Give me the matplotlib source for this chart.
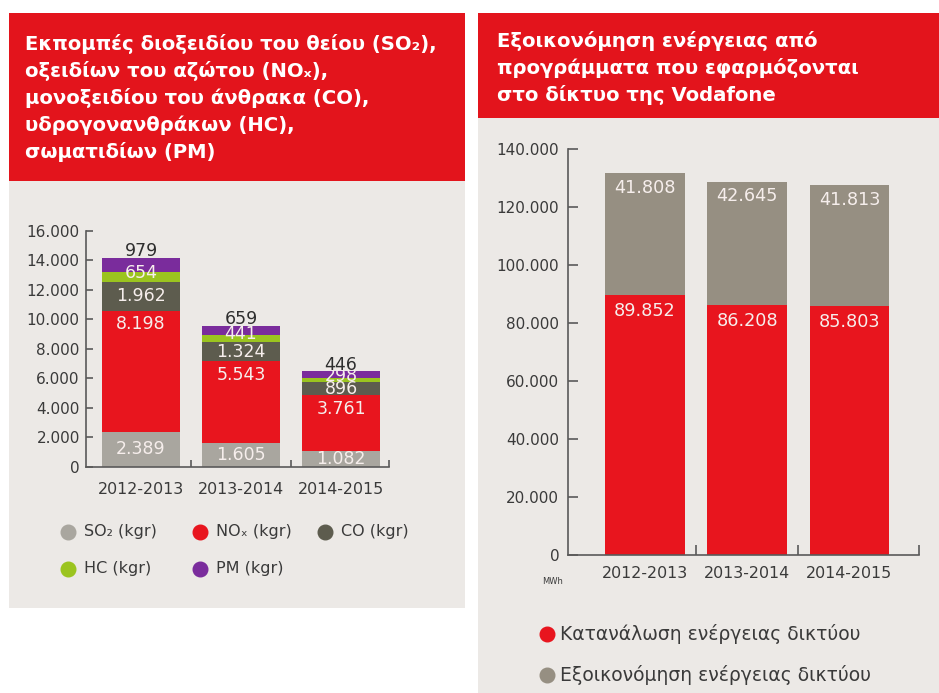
import numpy as np
import matplotlib.pyplot as plt
from matplotlib.patches import Rectangle
from matplotlib.lines import Line2D
from matplotlib.ticker import FuncFormatter, FixedLocator

W, H = 939, 693

# emissions per year, kgr
years = ["2012-2013", "2013-2014", "2014-2015"]
so2 = [2389, 1605, 1082]
nox = [8198, 5543, 3761]
co = [1962, 1324, 896]
hc = [654, 441, 298]
pm = [979, 659, 446]

# network energy, MWh
consumption = [89852, 86208, 85803]
savings = [41808, 42645, 41813]

left_title = ["Εκπομπές διοξειδίου του θείου (SO₂),",
              "οξειδίων του αζώτου (NOₓ),",
              "μονοξειδίου του άνθρακα (CO),",
              "υδρογονανθράκων (HC),",
              "σωματιδίων (PM)"]
right_title = ["Εξοικονόμηση ενέργειας από",
               "προγράμματα που εφαρμόζονται",
               "στο δίκτυο της Vodafone"]
left_legend = ["SO₂ (kgr)", "NOₓ (kgr)", "CO (kgr)", "HC (kgr)", "PM (kgr)"]
right_legend = ["Κατανάλωση ενέργειας δικτύου", "Εξοικονόμηση ενέργειας δικτύου"]

RED = '#E8151E'
HEADER_RED = '#E3141C'
PANEL = '#ECE9E6'
SO2_GREY = '#A9A69F'
CO_GREY = '#5D5C4E'
HC_GREEN = '#9BC41F'
PM_PURPLE = '#7A2C9C'
SAVE_GREY = '#968F82'
TEXT = '#3A3A3A'
LABEL = '#F6EEEC'
AXIS = '#5A5A5A'

plt.rcParams['font.family'] = ['DejaVu Sans']


def dots(v):
    return f"{v:,.0f}".replace(",", ".")


def fx(x):
    return x / W


def fy(y):
    return 1 - y / H


def px_axes(fig, x0, y0, x1, y1):
    return fig.add_axes([fx(x0), fy(y1), (x1 - x0) / W, (y1 - y0) / H])


def style_axes(ax, ymax, step, ticklen, xpad, ypad, xend):
    ax.set_facecolor('none')
    ax.set_ylim(0, ymax)
    ax.set_yticks(np.arange(0, ymax + 1, step))
    ax.yaxis.set_major_formatter(FuncFormatter(lambda v, p: dots(v)))
    for s in ["top", "right"]:
        ax.spines[s].set_visible(False)
    for s in ["left", "bottom"]:
        ax.spines[s].set_color(AXIS)
        ax.spines[s].set_linewidth(1.2)
    ax.tick_params(axis='y', direction='in', length=ticklen, width=1.2,
                   color=AXIS, labelcolor=TEXT, labelsize=11, pad=ypad)
    ax.set_xticks(range(len(years)))
    ax.set_xticklabels(years)
    ax.tick_params(axis='x', which='major', length=0, labelcolor=TEXT,
                   labelsize=11.4, pad=xpad)
    ax.xaxis.set_minor_locator(FixedLocator([0.5, 1.5, xend]))
    ax.tick_params(axis='x', which='minor', direction='in', length=ticklen,
                   width=1.2, color=AXIS)


fig = plt.figure(figsize=(W / 100, H / 100), dpi=100)
fig.patch.set_facecolor('white')

# panels and headers
for x0, y0, x1, y1, c in [(9, 181, 465, 608, PANEL), (478, 118, 939, 693, PANEL),
                          (9, 13, 465, 181.5, HEADER_RED), (478, 13, 939, 118, HEADER_RED)]:
    fig.add_artist(Rectangle((fx(x0), fy(y1)), (x1 - x0) / W, (y1 - y0) / H,
                             transform=fig.transFigure, facecolor=c, edgecolor='none',
                             zorder=0))

for i, line in enumerate(left_title):
    fig.text(fx(25), fy(50 + 27 * i), line, color='white', fontsize=14.1,
             fontweight='bold', va='baseline', ha='left')
for i, line in enumerate(right_title):
    fig.text(fx(497), fy(47 + 27 * i), line, color='white', fontsize=14.1,
             fontweight='bold', va='baseline', ha='left')

# left chart: stacked emissions
ax1 = px_axes(fig, 86, 231, 389, 466.7)
x = np.arange(len(years))
bw = 0.78
bottom = np.zeros(len(years))
series = [(so2, SO2_GREY), (nox, RED), (co, CO_GREY), (hc, HC_GREEN), (pm, PM_PURPLE)]
for k, (vals, col) in enumerate(series):
    vals = np.array(vals)
    ax1.bar(x, vals, bw, bottom=bottom, color=col, zorder=2)
    for i in range(len(years)):
        if k == 1:
            ax1.annotate(dots(vals[i]), (x[i], bottom[i] + vals[i]), xytext=(0, -3),
                         textcoords='offset points', ha='center', va='top',
                         color=LABEL, fontsize=12.5, zorder=3)
        elif k == 4:
            ax1.annotate(dots(vals[i]), (x[i], bottom[i] + vals[i]), xytext=(0, 1),
                         textcoords='offset points', ha='center', va='baseline',
                         color='#2E2E2E', fontsize=12.5, zorder=3)
        else:
            lift = 3 if k == 3 else 0
            ax1.annotate(dots(vals[i]), (x[i], bottom[i] + vals[i] / 2), xytext=(0, lift),
                         textcoords='offset points', ha='center', va='center',
                         color=LABEL, fontsize=12.5, zorder=3)
    bottom = bottom + vals
ax1.set_xlim(-0.55, 2.48)
style_axes(ax1, 16000, 2000, 5, 11, 4.5, 2.48)

# left legend
leg_pos = [(68, 531.5), (200, 531.5), (325, 531.5), (68, 569), (200, 569)]
leg_cols = [SO2_GREY, RED, CO_GREY, HC_GREEN, PM_PURPLE]
for (lx, ly), lab, col in zip(leg_pos, left_legend, leg_cols):
    fig.add_artist(Line2D([fx(lx)], [fy(ly)], marker='o', markersize=10.5, color=col,
                          linestyle='none', transform=fig.transFigure))
    fig.text(fx(lx + 16), fy(ly), lab, color=TEXT, fontsize=11.5, va='center', ha='left')

# right chart: consumption and savings
ax2 = px_axes(fig, 568.3, 149.3, 919, 555)
ax2.bar(x, consumption, bw, color=RED, zorder=2)
ax2.bar(x, savings, bw, bottom=consumption, color=SAVE_GREY, zorder=2)
for i in range(len(years)):
    ax2.annotate(dots(consumption[i]), (x[i], consumption[i]), xytext=(0, -5),
                 textcoords='offset points', ha='center', va='top', color=LABEL,
                 fontsize=12.7, zorder=3)
    ax2.annotate(dots(savings[i]), (x[i], consumption[i] + savings[i]), xytext=(0, -4),
                 textcoords='offset points', ha='center', va='top', color=LABEL,
                 fontsize=12.7, zorder=3)
ax2.set_xlim(-0.75, 2.68)
style_axes(ax2, 140000, 20000, 7, 8, 6.5, 2.68)
fig.text(fx(553), fy(582), "MWh", color=TEXT, fontsize=6, ha='center', va='center')

# right legend
for j, (lab, col) in enumerate(zip(right_legend, [RED, SAVE_GREY])):
    ly = 634 + 41 * j
    fig.add_artist(Line2D([fx(547)], [fy(ly)], marker='o', markersize=10.5, color=col,
                          linestyle='none', transform=fig.transFigure))
    fig.text(fx(560), fy(ly), lab, color=TEXT, fontsize=13.5, va='center', ha='left')

fig.savefig("out.png", dpi=100, facecolor=fig.get_facecolor())
